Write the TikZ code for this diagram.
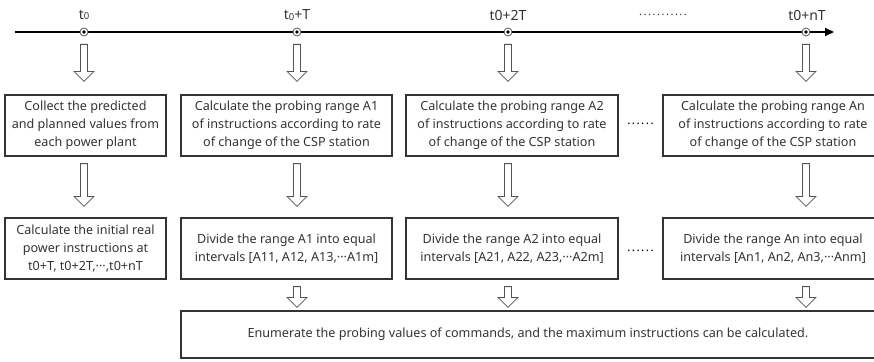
\documentclass[tikz,border=0pt]{standalone}
\usepackage{fontspec}
\setmainfont{Noto Sans}
\usetikzlibrary{calc,arrows.meta}
\definecolor{ink}{HTML}{333333}
\definecolor{edge}{HTML}{555555}
% hollow block arrow: #1 node giving the column, #2 start point, #3 tip
\newcommand\blockarrow[3]{%
  \draw[hollowarrow] let \p1=(#1), \p2=(#2), \p3=(#3) in
    (\x1-3.5pt,\y2) -- (\x1-3.5pt,\y3+10pt) -- (\x1-10pt,\y3+10pt) --
    (\x1,\y3) -- (\x1+10pt,\y3+10pt) -- (\x1+3.5pt,\y3+10pt) --
    (\x1+3.5pt,\y2) -- cycle;}
\begin{document}
\begin{tikzpicture}[x=1pt,y=-1pt,
  stepbox/.style={draw=ink, line width=1.2pt, text=ink, align=center,
    inner sep=0pt, minimum height=61pt,
    font=\fontsize{12.6}{18}\selectfont},
  hollowarrow/.style={draw=edge, line width=0.8pt, fill=white},
  timeline/.style={line width=2pt, black, -{Triangle[length=9pt,width=8pt]}},
  marker/.style={circle, draw=edge, line width=0.8pt, fill=white,
    inner sep=0pt, minimum size=8pt,
    path picture={\fill[black] (path picture bounding box.center) circle (1.9pt);}},
  timelabel/.style={text=ink, font=\fontsize{14}{14}\selectfont},
  gapdots/.style={text=black, font=\fontsize{12}{12}\selectfont\bfseries\addfontfeature{LetterSpace=12}}
]
\useasboundingbox (0,0) rectangle (874,361);
\clip (0,0) rectangle (874,361);

% time axis
\coordinate (tstart) at (15,32);
\coordinate (tend) at (834,32);
\draw[timeline] (tstart) -- (tend);
\node[marker] (m0) at (84,32) {};
\node[marker] (m1) at (297,32) {};
\node[marker] (m2) at (508,32) {};
\node[marker] (mn) at (806,32) {};
\node[timelabel] (l0) at (84,15) {t{\fontsize{9.5}{9.5}\selectfont\raisebox{-0.5pt}{0}}};
\node[timelabel] (l1) at (297,15) {t{\fontsize{9.5}{9.5}\selectfont\raisebox{-0.5pt}{0}}+T};
\node[timelabel] (l2) at (508,15) {t0+2T};
\node[timelabel, font=\fontsize{11}{11}\selectfont\addfontfeature{LetterSpace=14}] (ld) at (663,15) {...........};
\node[timelabel] (ln) at (807,15) {t0+nT};

% first row
\node[stepbox, minimum width=161pt] (b1) at (85.5,125.5)
  {Collect the predicted\\and planned values from\\each power plant};
\node[stepbox, minimum width=211pt] (b2) at (286.5,125.5)
  {Calculate the probing range A1\\of instructions according to rate\\of change of the CSP station};
\node[stepbox, minimum width=212pt] (b3) at (512,125.5)
  {Calculate the probing range A2\\of instructions according to rate\\of change of the CSP station};
\node[stepbox, minimum width=220pt] (b4) at (773,125.5)
  {Calculate the probing range An\\of instructions according to rate\\of change of the CSP station};
\node[gapdots] (d1) at (640.5,124) {......};

% second row
\node[stepbox, minimum width=161pt] (c1) at (85.5,248.5)
  {Calculate the initial real\\power instructions at\\t0+T, t0+2T,\textperiodcentered\textperiodcentered\textperiodcentered,t0+nT};
\node[stepbox, minimum width=211pt] (c2) at (286.5,248.5)
  {Divide the range A1 into equal\\intervals [A11, A12, A13,\textperiodcentered\textperiodcentered\textperiodcentered A1m]};
\node[stepbox, minimum width=212pt] (c3) at (512,248.5)
  {Divide the range A2 into equal\\intervals [A21, A22, A23,\textperiodcentered\textperiodcentered\textperiodcentered A2m]};
\node[stepbox, minimum width=220pt] (c4) at (773,248.5)
  {Divide the range An into equal\\intervals [An1, An2, An3,\textperiodcentered\textperiodcentered\textperiodcentered Anm]};
\node[gapdots] (d2) at (640.5,251) {......};

% final step
\node[stepbox, minimum width=694pt, minimum height=47pt] (e) at (528,334.5)
  {Enumerate the probing values of commands, and the maximum instructions can be calculated.};

% arrows from the time axis
\blockarrow{m0}{$(m0.south)+(0,8)$}{$(b1.north)+(0,-13)$}
\blockarrow{m1}{$(m1.south)+(0,8)$}{$(b2.north)+(0,-13)$}
\blockarrow{m2}{$(m2.south)+(0,8)$}{$(b3.north)+(0,-13)$}
\blockarrow{mn}{$(mn.south)+(0,8)$}{$(b4.north)+(0,-13)$}
% arrows between the rows
\blockarrow{m0}{$(b1.south)+(0,7)$}{$(c1.north)+(0,-11)$}
\blockarrow{m1}{$(b2.south)+(0,7)$}{$(c2.north)+(0,-11)$}
\blockarrow{m2}{$(b3.south)+(0,7)$}{$(c3.north)+(0,-11)$}
\blockarrow{mn}{$(b4.south)+(0,7)$}{$(c4.north)+(0,-11)$}
% arrows into the final step
\blockarrow{m1}{$(c2.south)+(0,7)$}{$(e.north)+(0,-3)$}
\blockarrow{m2}{$(c3.south)+(0,7)$}{$(e.north)+(0,-3)$}
\blockarrow{mn}{$(c4.south)+(0,7)$}{$(e.north)+(0,-3)$}
\end{tikzpicture}
\end{document}
